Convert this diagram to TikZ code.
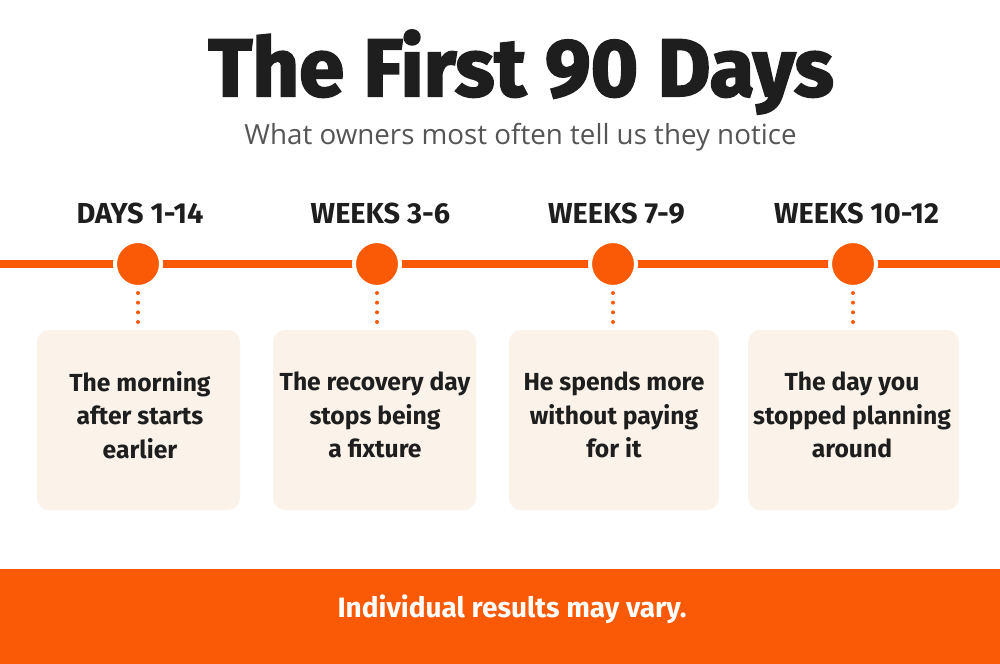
\documentclass[tikz,border=0pt]{standalone}
\usepackage{fontspec}
\setmainfont{Fira Sans}
\newfontfamily\heavyfont{Fira Sans}[BoldFeatures={FakeBold=2.5}]
\newfontfamily\subfont{Open Sans}
\definecolor{accent}{HTML}{FA5A05}
\definecolor{cream}{HTML}{FBF3EA}
\definecolor{ink}{HTML}{1E1E1E}
\definecolor{subgray}{HTML}{555555}
\tikzset{
  titletext/.style={anchor=base, text=ink, inner sep=0, font=\heavyfont\bfseries\fontsize{61pt}{70pt}\selectfont},
  subtext/.style={anchor=base, text=subgray, inner sep=0, font=\subfont\fontsize{20.8pt}{24pt}\selectfont},
  phaselabel/.style={anchor=base, text=ink, inner sep=0, font=\bfseries\fontsize{21.7pt}{26pt}\selectfont},
  milestone/.style={circle, fill=accent, draw=white, line width=4*0.75pt, minimum size=46*0.75pt, inner sep=0},
  card/.style={rectangle, rounded corners=12*0.75pt, fill=cream, minimum height=180*0.75pt, inner sep=0},
  cardtext/.style={text=ink, align=center, inner sep=0, font=\bfseries\fontsize{18.5pt}{25.1pt}\selectfont},
  dotline/.style={accent, line width=4*0.75pt, line cap=round, dash pattern=on 0pt off 9.67*0.75pt},
  timeline/.style={accent, line width=8*0.75pt},
  band/.style={fill=accent},
  bandtext/.style={anchor=base, text=white, inner sep=0, font=\bfseries\fontsize{21pt}{26pt}\selectfont}
}
\begin{document}
\begin{tikzpicture}[x=0.75pt,y=-0.75pt]
\useasboundingbox (0,0) rectangle (1000,664);
\fill[white] (0,0) rectangle (1000,664);

\node[titletext] (title) at (521,96) {The First 90 Days};
\node[subtext] (subtitle) at (520.5,144) {What owners most often tell us they notice};

\coordinate (lineL) at (0,264);
\coordinate (lineR) at (1000,264);
\draw[timeline] (lineL) -- (lineR);

\node[phaselabel] (l1) at (140,223) {DAYS 1-14};
\node[phaselabel] (l2) at (380.5,223) {WEEKS 3-6};
\node[phaselabel] (l3) at (616.5,223) {WEEKS 7-9};
\node[phaselabel] (l4) at (856.5,223) {WEEKS 10-12};

\node[milestone] (c1) at (138,264) {};
\node[milestone] (c2) at (377,264) {};
\node[milestone] (c3) at (613,264) {};
\node[milestone] (c4) at (853,264) {};

\node[card, minimum width=203*0.75pt] (b1) at (138.5,420) {};
\node[card, minimum width=203*0.75pt] (b2) at (374.5,420) {};
\node[card, minimum width=210*0.75pt] (b3) at (614,420) {};
\node[card, minimum width=211*0.75pt] (b4) at (853.5,420) {};

\foreach \i in {1,2,3,4}{
  \draw[dotline, shorten <=4*0.75pt, shorten >=7.5*0.75pt] (c\i.south) -- (c\i.south |- b\i.north);
}

\node[cardtext] (t1) at (140,415) {The morning\\after starts\\earlier};
\node[cardtext] (t2) at (375,415) {The recovery day\\stops being\\a fixture};
\node[cardtext] (t3) at (614,415) {He spends more\\without paying\\for it};
\node[cardtext] (t4) at (852,415) {The day you\\stopped planning\\around};

\fill[band] (0,569) rectangle (1000,664);
\node[bandtext] (foot) at (512,617) {Individual results may vary.};
\end{tikzpicture}
\end{document}
